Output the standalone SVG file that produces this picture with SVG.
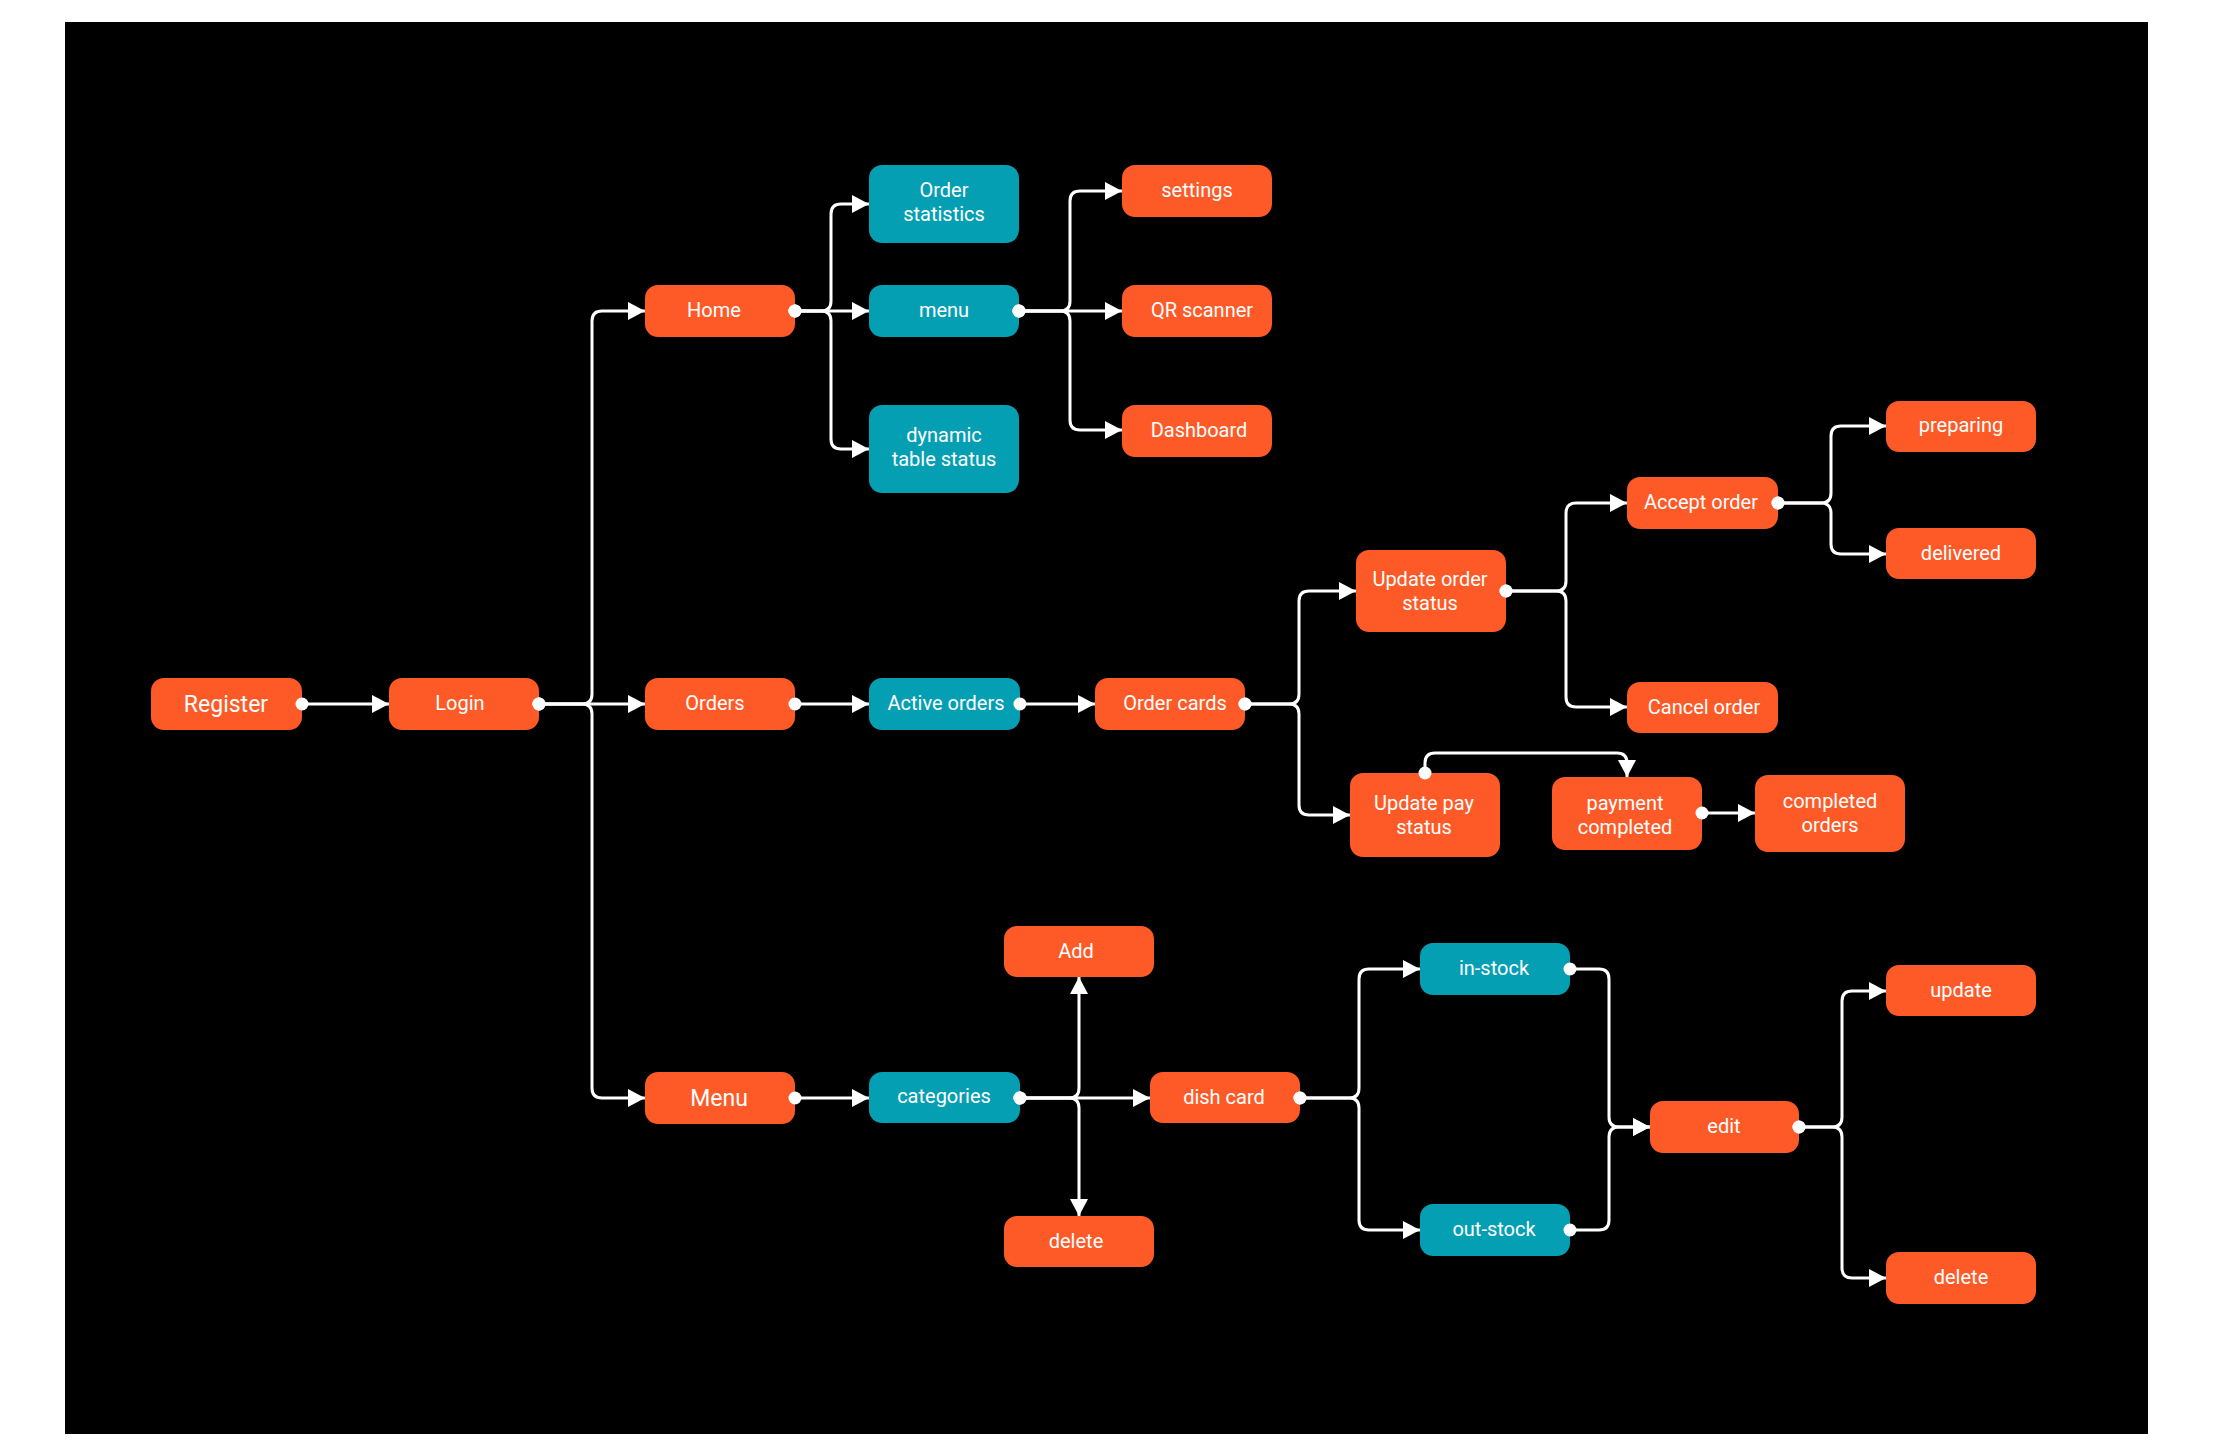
<svg xmlns="http://www.w3.org/2000/svg" width="2236" height="1450" viewBox="0 0 2236 1450">
<style>
.o{fill:#FD5A27}
.t{fill:#059FB4}
.n text{font-family:Roboto,"Liberation Sans",sans-serif;font-size:20px;fill:#fff;text-anchor:middle}
.n text.big{font-size:23px}
.c path{fill:none;stroke:#fff;stroke-width:3;marker-start:url(#dot);marker-end:url(#arr)}
</style>
<defs>
<marker id="arr" markerUnits="userSpaceOnUse" markerWidth="17" markerHeight="18" viewBox="0 0 17 18" refX="17" refY="9" orient="auto"><path d="M0,0 L17,9 L0,18 z" fill="#fff"/></marker>
<marker id="dot" markerUnits="userSpaceOnUse" markerWidth="14" markerHeight="14" viewBox="-7 -7 14 14" refX="0" refY="0"><circle r="6.5" fill="#fff"/></marker>
</defs>
<rect width="2236" height="1450" fill="#fff"/>
<rect x="65" y="22" width="2083" height="1412" fill="#000"/>

<g id="register" class="n"><rect class="o" x="151" y="678" width="151" height="52" rx="13"/><text class="big" x="226" y="712">Register</text></g>
<g id="login" class="n"><rect class="o" x="389" y="678" width="150" height="52" rx="13"/><text x="460" y="710">Login</text></g>
<g id="home" class="n"><rect class="o" x="645" y="285" width="150" height="52" rx="13"/><text x="714" y="317">Home</text></g>
<g id="orders" class="n"><rect class="o" x="645" y="678" width="150" height="52" rx="13"/><text x="715" y="710">Orders</text></g>
<g id="menu-main" class="n"><rect class="o" x="645" y="1072" width="150" height="52" rx="13"/><text class="big" x="719" y="1106">Menu</text></g>

<g id="order-statistics" class="n"><rect class="t" x="869" y="165" width="150" height="78" rx="13"/><text x="944" y="197">Order</text><text x="944" y="221">statistics</text></g>
<g id="menu" class="n"><rect class="t" x="869" y="285" width="150" height="52" rx="13"/><text x="944" y="317">menu</text></g>
<g id="dynamic-table-status" class="n"><rect class="t" x="869" y="405" width="150" height="88" rx="13"/><text x="944" y="442">dynamic</text><text x="944" y="466">table status</text></g>

<g id="settings" class="n"><rect class="o" x="1122" y="165" width="150" height="52" rx="13"/><text x="1197" y="197">settings</text></g>
<g id="qr-scanner" class="n"><rect class="o" x="1122" y="285" width="150" height="52" rx="13"/><text x="1202" y="317">QR scanner</text></g>
<g id="dashboard" class="n"><rect class="o" x="1122" y="405" width="150" height="52" rx="13"/><text x="1199" y="437">Dashboard</text></g>

<g id="active-orders" class="n"><rect class="t" x="869" y="678" width="151" height="52" rx="13"/><text x="946" y="710">Active orders</text></g>
<g id="order-cards" class="n"><rect class="o" x="1095" y="678" width="150" height="52" rx="13"/><text x="1175" y="710">Order cards</text></g>
<g id="update-order-status" class="n"><rect class="o" x="1356" y="550" width="150" height="82" rx="13"/><text x="1430" y="586">Update order</text><text x="1430" y="610">status</text></g>
<g id="accept-order" class="n"><rect class="o" x="1627" y="477" width="151" height="52" rx="13"/><text x="1701" y="509">Accept order</text></g>
<g id="cancel-order" class="n"><rect class="o" x="1627" y="682" width="151" height="51" rx="13"/><text x="1704" y="714">Cancel order</text></g>
<g id="preparing" class="n"><rect class="o" x="1886" y="401" width="150" height="51" rx="13"/><text x="1961" y="432">preparing</text></g>
<g id="delivered" class="n"><rect class="o" x="1886" y="528" width="150" height="51" rx="13"/><text x="1961" y="560">delivered</text></g>
<g id="update-pay-status" class="n"><rect class="o" x="1350" y="773" width="150" height="84" rx="13"/><text x="1424" y="810">Update pay</text><text x="1424" y="834">status</text></g>
<g id="payment-completed" class="n"><rect class="o" x="1552" y="777" width="150" height="73" rx="13"/><text x="1625" y="810">payment</text><text x="1625" y="834">completed</text></g>
<g id="completed-orders" class="n"><rect class="o" x="1755" y="775" width="150" height="77" rx="13"/><text x="1830" y="808">completed</text><text x="1830" y="832">orders</text></g>

<g id="categories" class="n"><rect class="t" x="869" y="1072" width="151" height="51" rx="13"/><text x="944" y="1103">categories</text></g>
<g id="add" class="n"><rect class="o" x="1004" y="926" width="150" height="51" rx="13"/><text x="1076" y="958">Add</text></g>
<g id="delete-category" class="n"><rect class="o" x="1004" y="1216" width="150" height="51" rx="13"/><text x="1076" y="1248">delete</text></g>
<g id="dish-card" class="n"><rect class="o" x="1150" y="1072" width="150" height="51" rx="13"/><text x="1224" y="1104">dish card</text></g>
<g id="in-stock" class="n"><rect class="t" x="1420" y="943" width="150" height="52" rx="13"/><text x="1494" y="975">in-stock</text></g>
<g id="out-stock" class="n"><rect class="t" x="1420" y="1204" width="150" height="52" rx="13"/><text x="1494" y="1236">out-stock</text></g>
<g id="edit" class="n"><rect class="o" x="1650" y="1101" width="149" height="52" rx="13"/><text x="1724" y="1133">edit</text></g>
<g id="update" class="n"><rect class="o" x="1886" y="965" width="150" height="51" rx="13"/><text x="1961" y="997">update</text></g>
<g id="delete-dish" class="n"><rect class="o" x="1886" y="1252" width="150" height="52" rx="13"/><text x="1961" y="1284">delete</text></g>

<g id="connectors" class="c">
<path d="M302 704 H389"/>
<path d="M539 704 H582 Q592 704 592 694 V321 Q592 311 602 311 H645"/>
<path d="M539 704 H645"/>
<path d="M539 704 H582 Q592 704 592 714 V1088 Q592 1098 602 1098 H645"/>
<path d="M795 311 H821 Q831 311 831 301 V214 Q831 204 841 204 H869"/>
<path d="M795 311 H869"/>
<path d="M795 311 H821 Q831 311 831 321 V439 Q831 449 841 449 H869"/>
<path d="M1019 311 H1060 Q1070 311 1070 301 V201 Q1070 191 1080 191 H1122"/>
<path d="M1019 311 H1122"/>
<path d="M1019 311 H1060 Q1070 311 1070 321 V420 Q1070 430 1080 430 H1122"/>
<path d="M795 704 H869"/>
<path d="M1020 704 H1095"/>
<path d="M1245 704 H1289 Q1299 704 1299 694 V601 Q1299 591 1309 591 H1356"/>
<path d="M1245 704 H1289 Q1299 704 1299 714 V805 Q1299 815 1309 815 H1350"/>
<path d="M1506 591 H1556 Q1566 591 1566 581 V513 Q1566 503 1576 503 H1627"/>
<path d="M1506 591 H1556 Q1566 591 1566 601 V697 Q1566 707 1576 707 H1627"/>
<path d="M1778 503 H1821 Q1831 503 1831 493 V436 Q1831 426 1841 426 H1886"/>
<path d="M1778 503 H1821 Q1831 503 1831 513 V544 Q1831 554 1841 554 H1886"/>
<path d="M1425 773 V763 Q1425 753 1435 753 H1617 Q1627 753 1627 763 V777"/>
<path d="M1702 813 H1755"/>
<path d="M795 1098 H869"/>
<path d="M1020 1098 H1069 Q1079 1098 1079 1088 V977"/>
<path d="M1020 1098 H1069 Q1079 1098 1079 1108 V1216"/>
<path d="M1020 1098 H1150"/>
<path d="M1300 1098 H1349 Q1359 1098 1359 1088 V979 Q1359 969 1369 969 H1420"/>
<path d="M1300 1098 H1349 Q1359 1098 1359 1108 V1220 Q1359 1230 1369 1230 H1420"/>
<path d="M1570 969 H1599 Q1609 969 1609 979 V1117 Q1609 1127 1619 1127 H1650"/>
<path d="M1570 1230 H1599 Q1609 1230 1609 1220 V1137 Q1609 1127 1619 1127 H1650"/>
<path d="M1799 1127 H1832 Q1842 1127 1842 1117 V1001 Q1842 991 1852 991 H1886"/>
<path d="M1799 1127 H1832 Q1842 1127 1842 1137 V1268 Q1842 1278 1852 1278 H1886"/>
</g>
</svg>
